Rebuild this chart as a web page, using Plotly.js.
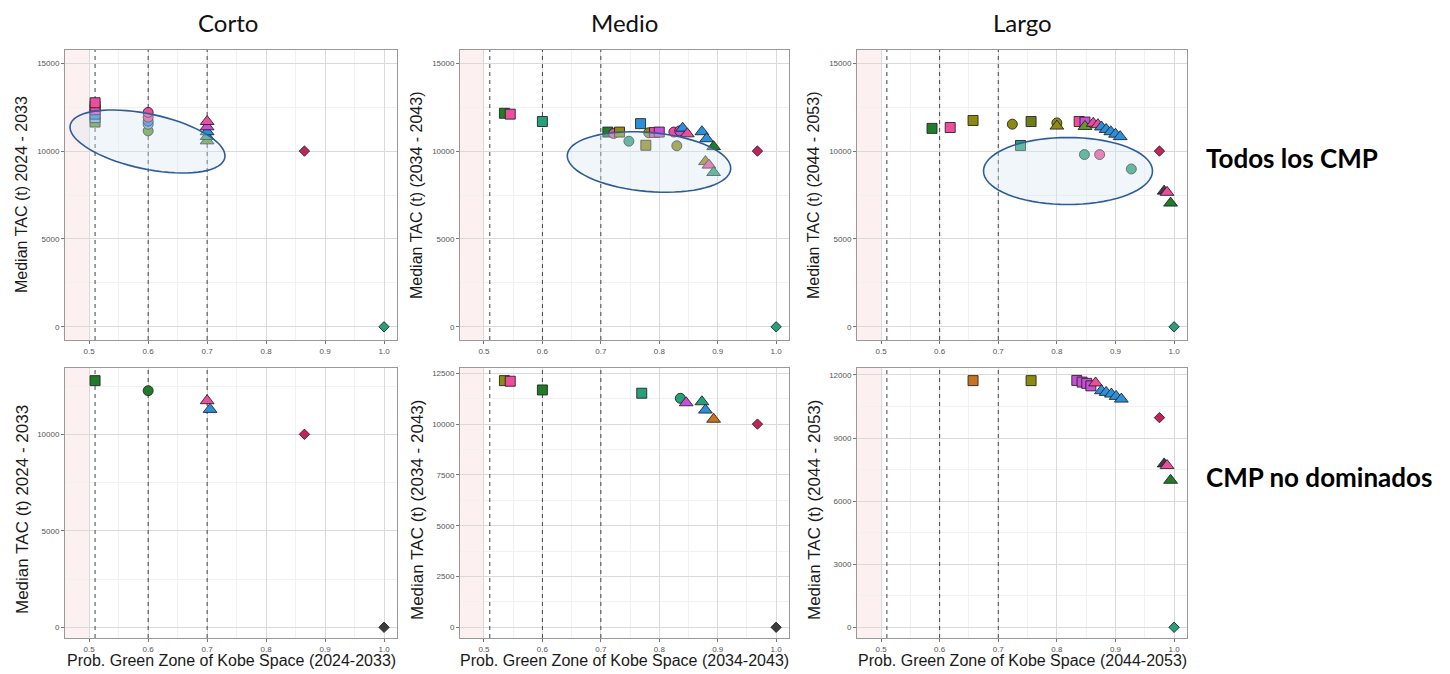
<!DOCTYPE html>
<html>
<head>
<meta charset="utf-8">
<script src="https://cdn.plot.ly/plotly-3.0.1.min.js"></script>
<style>
  html, body { margin: 0; padding: 0; background: #fff; }
  #chart { width: 1450px; height: 674px; }
</style>
</head>
<body>
<div id="chart"></div>
<script>
// families: A = square, B = circle, C = triangle, D = diamond
// tones: colour keys looked up in `tones` below

// Corto, todos los CMP
const cortoTodosX = [0.51, 0.51, 0.51, 0.51, 0.51, 0.51, 0.6, 0.6, 0.6, 0.6, 0.6, 0.7, 0.7, 0.7, 0.7, 0.7, 0.865, 1.0];
const cortoTodosY = [11650, 11900, 12100, 12350, 12550, 12750, 11150, 11530, 11700, 11930, 12200, 10580, 10830, 11100, 11380, 11680, 10000, 0];
const cortoTodosFam = ['A', 'A', 'A', 'A', 'A', 'A', 'B', 'B', 'B', 'B', 'B', 'C', 'C', 'C', 'C', 'C', 'D', 'D'];
const cortoTodosTone = ['gr', 'lb', 'bl', 'mg', 'pk', 'pk', 'gr', 'lb', 'bl', 'pk', 'pk', 'gr', 'tl', 'bl', 'mg', 'pk', 'cr', 'tl'];

// Medio, todos los CMP
const medioTodosX = [0.535, 0.545, 0.6, 0.712, 0.722, 0.732, 0.748, 0.768, 0.777, 0.782, 0.792, 0.8, 0.825, 0.83, 0.835, 0.84, 0.848, 0.873, 0.881, 0.893, 0.879, 0.885, 0.893, 0.968, 1.0];
const medioTodosY = [12150, 12100, 11680, 11080, 11000, 11080, 10560, 11560, 10330, 11040, 11060, 11080, 11080, 10300, 11150, 11300, 10980, 11100, 10700, 10250, 9400, 9200, 8780, 10000, 0];
const medioTodosFam = ['A', 'A', 'A', 'A', 'B', 'A', 'B', 'A', 'A', 'B', 'A', 'A', 'B', 'B', 'B', 'C', 'C', 'C', 'C', 'C', 'C', 'C', 'C', 'D', 'D'];
const medioTodosTone = ['dg', 'pk', 'tl', 'dg', 'pk', 'ol', 'tl', 'bl', 'ol', 'ol', 'pk', 'mg', 'pk', 'ol', 'mg', 'bl', 'pk', 'bl', 'bl', 'dg', 'ol', 'pk', 'tl', 'cr', 'tl'];

// Largo, todos los CMP
const largoTodosX = [0.587, 0.618, 0.657, 0.724, 0.738, 0.756, 0.8, 0.8, 0.838, 0.848, 0.848, 0.862, 0.87, 0.876, 0.884, 0.892, 0.9, 0.908, 0.847, 0.873, 0.927, 0.975, 0.983, 0.988, 0.994, 1.0];
const largoTodosY = [11290, 11340, 11740, 11530, 10320, 11680, 11600, 11420, 11680, 11650, 11400, 11580, 11500, 11370, 11230, 11100, 10960, 10820, 9800, 9800, 8980, 10000, 7720, 7650, 7040, 0];
const largoTodosFam = ['A', 'A', 'A', 'B', 'A', 'A', 'B', 'C', 'A', 'A', 'C', 'C', 'C', 'C', 'C', 'C', 'C', 'C', 'B', 'B', 'B', 'D', 'C', 'C', 'C', 'D'];
const largoTodosTone = ['dg', 'pk', 'ol', 'ol', 'tl', 'og', 'ol', 'ol', 'pk', 'mg', 'gr', 'pk', 'pk', 'bl', 'bl', 'bl', 'bl', 'bl', 'tl', 'pk', 'tl', 'cr', 'gy', 'pk', 'dg', 'tl'];

// Corto, CMP no dominados
const cortoNoDomX = [0.51, 0.6, 0.7, 0.705, 0.865, 1.0];
const cortoNoDomY = [12780, 12260, 11740, 11290, 10000, 0];
const cortoNoDomFam = ['A', 'B', 'C', 'C', 'D', 'D'];
const cortoNoDomTone = ['dg', 'dg', 'pk', 'bl', 'cr', 'gy'];

// Medio, CMP no dominados
const medioNoDomX = [0.535, 0.545, 0.6, 0.77, 0.836, 0.846, 0.873, 0.879, 0.893, 0.968, 1.0];
const medioNoDomY = [12140, 12110, 11680, 11520, 11270, 11050, 11100, 10690, 10240, 10000, 0];
const medioNoDomFam = ['A', 'A', 'A', 'A', 'B', 'C', 'C', 'C', 'C', 'D', 'D'];
const medioNoDomTone = ['ol', 'pk', 'dg', 'tl', 'tl', 'mg', 'tl', 'bl', 'or', 'cr', 'gy'];

// Largo, CMP no dominados
const largoNoDomX = [0.657, 0.756, 0.834, 0.843, 0.851, 0.858, 0.866, 0.876, 0.884, 0.893, 0.901, 0.91, 0.975, 0.983, 0.988, 0.994, 1.0];
const largoNoDomY = [11730, 11730, 11740, 11660, 11600, 11480, 11620, 11250, 11170, 11090, 10980, 10850, 9970, 7770, 7690, 6990, 0];
const largoNoDomFam = ['A', 'A', 'A', 'A', 'A', 'A', 'C', 'C', 'C', 'C', 'C', 'C', 'D', 'C', 'C', 'C', 'D'];
const largoNoDomTone = ['or', 'ol', 'mg', 'mg', 'mg', 'mg', 'pk', 'bl', 'bl', 'bl', 'bl', 'bl', 'cr', 'gy', 'pk', 'dg', 'tl'];

const periods = ['2024 - 2033', '(2034 - 2043)', '(2044 - 2053)'];
const kobePeriods = ['2024-2033', '2034-2043', '2044-2053'];
const columnTitles = ['Corto', 'Medio', 'Largo'];
const rowTitles = ['Todos los CMP', 'CMP no dominados'];
const refLinesX = [0.51, 0.6, 0.7];
const redZoneMax = 0.5;

// style
const tones = {
  pk: '#ec4d9c', mg: '#c94fd6', bl: '#2c8fdc', lb: '#7aa6ec', gr: '#5f9c2b',
  dg: '#1f7d2a', tl: '#26a07a', ol: '#8c8a10', og: '#6e7d1a', cr: '#c2245a',
  or: '#c8741e', gy: '#3c3c3c'
};
const famSymbol = {A: 'square', B: 'circle', C: 'triangle-up', D: 'diamond'};
const famSize = {A: 10, B: 10, C: 12, D: 8};

const W = 1450, H = 674;
const colPx = [[65, 397], [460, 789], [857, 1187]];
const rowPx = [[50, 340], [368, 638]];
const xRange = [0.459, 1.022];
const yRanges = [[-750, 15750], [-750, 15750], [-750, 15750], [-555, 13435], [-527, 12761], [-510, 12330]];
const yDticks = [5000, 5000, 5000, 5000, 2500, 3000];

const panels = [
  [cortoTodosX, cortoTodosY, cortoTodosFam, cortoTodosTone],
  [medioTodosX, medioTodosY, medioTodosFam, medioTodosTone],
  [largoTodosX, largoTodosY, largoTodosFam, largoTodosTone],
  [cortoNoDomX, cortoNoDomY, cortoNoDomFam, cortoNoDomTone],
  [medioNoDomX, medioNoDomY, medioNoDomFam, medioNoDomTone],
  [largoNoDomX, largoNoDomY, largoNoDomFam, largoNoDomTone]
];

const tickFont = {family: 'Liberation Sans, Arial, sans-serif', size: 8, color: '#555'};
const data = [];
const layout = {
  width: W, height: H,
  margin: {l: 0, r: 0, t: 0, b: 0},
  paper_bgcolor: '#fff', plot_bgcolor: '#fff',
  showlegend: false,
  shapes: [], annotations: []
};

panels.forEach((p, i) => {
  const n = i + 1, sfx = n === 1 ? '' : String(n);
  const col = i % 3, row = Math.floor(i / 3);
  const [xs, ys, fam, tone] = p;

  // dashed reference lines, above the grid and under the markers
  refLinesX.forEach(v => data.push({
    type: 'scatter', mode: 'lines',
    x: [v, v], y: yRanges[i],
    xaxis: 'x' + sfx, yaxis: 'y' + sfx,
    line: {color: '#444', width: 1, dash: '4px,4px'},
    hoverinfo: 'skip'
  }));

  data.push({
    type: 'scatter', mode: 'markers',
    x: xs, y: ys,
    xaxis: 'x' + sfx, yaxis: 'y' + sfx,
    marker: {
      symbol: fam.map(f => famSymbol[f]),
      size: fam.map(f => famSize[f]),
      color: tone.map(t => tones[t]),
      opacity: 1,
      line: {color: 'rgba(30,30,30,0.85)', width: 1}
    },
    hoverinfo: 'skip'
  });
  const axBase = {
    showline: true, mirror: true, linecolor: '#999', linewidth: 1,
    ticks: 'outside', ticklen: 3, tickcolor: '#777', tickwidth: 1,
    tickfont: tickFont, zeroline: false,
    showgrid: true, gridcolor: '#dadada', gridwidth: 1
  };
  layout['xaxis' + sfx] = Object.assign({}, axBase, {
    domain: [colPx[col][0] / W, colPx[col][1] / W],
    anchor: 'y' + sfx, range: xRange,
    tick0: 0.5, dtick: 0.1, tickformat: '.1f',
    minor: {showgrid: true, gridcolor: '#f1f1f1', dtick: 0.05, tick0: 0.5}
  });
  layout['yaxis' + sfx] = Object.assign({}, axBase, {
    domain: [1 - rowPx[row][1] / H, 1 - rowPx[row][0] / H],
    anchor: 'x' + sfx, range: yRanges[i],
    tick0: 0, dtick: yDticks[i], tickformat: 'd',
    minor: {showgrid: true, gridcolor: '#f1f1f1', dtick: yDticks[i] / 2, tick0: 0}
  });

  // red zone
  layout.shapes.push({
    type: 'rect', xref: 'x' + sfx, yref: 'y' + sfx,
    x0: xRange[0], x1: redZoneMax, y0: yRanges[i][0], y1: yRanges[i][1],
    fillcolor: 'rgba(250,212,214,0.35)', line: {width: 0}, layer: 'below'
  });

  // y title
  const yc = row === 0 ? 195 : 510;
  layout.annotations.push({
    xref: 'paper', yref: 'paper', xanchor: 'center', yanchor: 'middle',
    x: (colPx[col][0] - 43) / W, y: 1 - yc / H,
    text: 'Median TAC (t) ' + periods[col], textangle: -90, showarrow: false,
    font: {family: 'Liberation Sans, Arial, sans-serif', size: row === 0 ? 16 : 17, color: '#1a1a1a'}
  });
  if (row === 1) {
    layout.annotations.push({
      xref: 'paper', yref: 'paper', xanchor: 'center', yanchor: 'middle',
      x: (colPx[col][0] + colPx[col][1]) / 2 / W, y: 1 - 660 / H,
      text: 'Prob. Green Zone of Kobe Space (' + kobePeriods[col] + ')', showarrow: false,
      font: {family: 'Liberation Sans, Arial, sans-serif', size: 16, color: '#1a1a1a'}
    });
  }
});

// column and row headings
const colCenters = [228, 624, 1022];
columnTitles.forEach((t, c) => layout.annotations.push({
  xref: 'paper', yref: 'paper', xanchor: 'center', yanchor: 'middle',
  x: colCenters[c] / W, y: 1 - 22 / H,
  text: t, showarrow: false,
  font: {family: 'Lato, Open Sans, sans-serif', size: 24, color: '#111'}
}));
const rowCenters = [158, 477];
rowTitles.forEach((t, r) => layout.annotations.push({
  xref: 'paper', yref: 'paper', xanchor: 'left', yanchor: 'middle',
  x: 1204 / W, y: 1 - rowCenters[r] / H,
  text: '<b>' + t + '</b>', showarrow: false,
  font: {family: 'Lato, Open Sans, sans-serif', size: 26, color: '#000'}
}));

// highlight ellipses (pixel centre, semi-axes, tilt in degrees)
function ellipsePath(cx, cy, a, b, deg) {
  const th = deg * Math.PI / 180;
  let d = '';
  for (let k = 0; k <= 72; k++) {
    const t = 2 * Math.PI * k / 72;
    const px = cx + a * Math.cos(th) * Math.cos(t) - b * Math.sin(th) * Math.sin(t);
    const py = cy + a * Math.sin(th) * Math.cos(t) + b * Math.cos(th) * Math.sin(t);
    d += (k === 0 ? 'M' : 'L') + (px / W).toFixed(5) + ',' + (1 - py / H).toFixed(5);
  }
  return d + 'Z';
}
[[147.5, 141.5, 79, 27.5, 12], [649, 162, 82, 29.5, 5], [1068, 171, 84.5, 33.5, 0]].forEach(e => {
  layout.shapes.push({
    type: 'path', xref: 'paper', yref: 'paper', path: ellipsePath(...e),
    fillcolor: 'rgba(214,229,244,0.35)', line: {color: '#2f5d9a', width: 1.6}, layer: 'above'
  });
});

Plotly.newPlot('chart', data, layout, {staticPlot: true, displayModeBar: false});
</script>
</body>
</html>
